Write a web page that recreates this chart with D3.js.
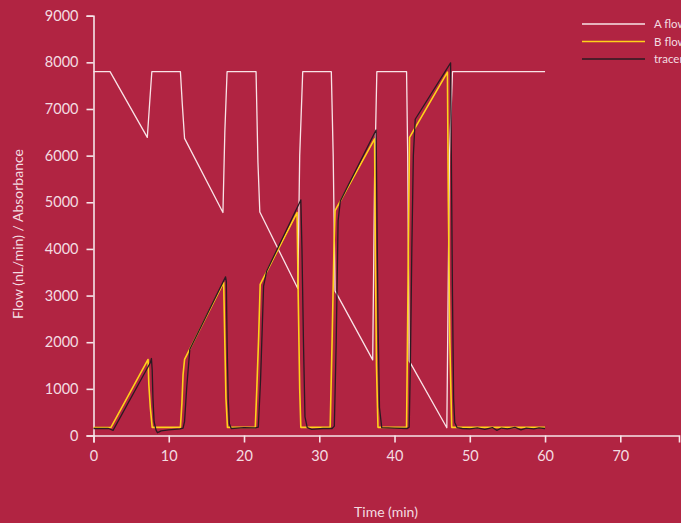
<!DOCTYPE html>
<html>
<head>
<meta charset="utf-8">
<script src="https://cdn.jsdelivr.net/npm/d3@7"></script>
<style>
html, body { margin: 0; padding: 0; background: #b12442; overflow: hidden; }
svg { display: block; }
text { font-family: Lato, "Liberation Sans", sans-serif; fill: #f4dce1; }
</style>
</head>
<body>
<svg id="chart" width="681" height="523"></svg>
<script>
// ---- data ----
const xTicks = [0, 10, 20, 30, 40, 50, 60, 70];
const yTicks = [0, 1000, 2000, 3000, 4000, 5000, 6000, 7000, 8000, 9000];
const seriesNames = ["A flow", "B flow", "tracer"];

// [time (min), value]
const aFlow = [
  [0,7800],[2.2,7800],[7.15,6390],[7.45,7100],[7.75,7800],[11.55,7800],[11.8,7100],[12.1,6370],
  [17.2,4780],[17.45,6500],[17.75,7800],[21.6,7800],[21.85,5860],[22.1,4790],
  [27.15,3150],[27.4,6000],[27.8,7800],[31.6,7800],[31.85,6000],[32.1,3100],
  [37.1,1620],[37.35,5500],[37.65,7800],[41.6,7800],[41.75,6000],[41.95,1600],
  [46.95,165],[47.3,6000],[47.7,7800],[60,7800]
];
const bFlow = [
  [0,170],[2.3,170],[7.25,1630],[7.35,1100],[7.55,600],[7.8,175],[11.55,175],[11.75,700],[11.9,1300],[12.1,1630],
  [17.3,3280],[17.45,2000],[17.6,800],[17.8,175],[21.5,175],[21.7,1000],[21.95,2130],[22.15,3240],
  [27.05,4780],[27.2,3000],[27.4,1000],[27.55,175],[31.45,175],[31.7,2000],[31.95,4000],[32.1,4820],
  [37.35,6360],[37.45,4000],[37.6,1500],[37.8,175],[41.6,175],[41.75,2500],[41.9,5000],[42.0,6390],
  [47.03,7790],[47.15,5000],[47.35,2000],[47.6,175],[60,175]
];
const tracer = [
  [0,150],[2.0,150],[2.6,110],[7.55,1560],[7.7,1650],[7.8,1400],[7.9,800],[8.05,300],[8.3,120],[8.5,60],
  [9.0,100],[10,120],[11.5,140],[11.9,160],[12.1,300],[12.4,1060],[12.8,1850],
  [17.55,3400],[17.65,3300],[17.75,2000],[17.9,800],[18.05,250],[18.3,150],[20,170],[21.5,165],[21.9,180],
  [22.2,1200],[22.6,3200],[23.0,3520],[27.55,5050],[27.7,4000],[27.9,2000],[28.1,400],[28.4,170],
  [29,130],[30.5,150],[31.7,150],[32.0,200],[32.25,2000],[32.5,4600],[32.8,5030],
  [37.55,6550],[37.65,5000],[37.8,2500],[38.0,600],[38.3,170],[40,160],[41.7,150],[41.95,180],
  [42.1,1500],[42.3,4000],[42.5,6000],[42.75,6780],[47.45,7990],[47.55,6000],[47.7,3000],[47.85,800],
  [48.0,280],[48.3,170],[49,150],[50,140],[51,165],[52,130],[53,170],[53.6,110],[54.2,160],[55,140],
  [56,175],[56.8,120],[57.5,160],[58.5,140],[59.2,165],[60,150]
];

// ---- chart ----
const svg = d3.select("#chart");
const x = d3.scaleLinear().domain([0, 77.8]).range([93.5, 679]);
const y = d3.scaleLinear().domain([0, 9000]).range([435.5, 15.7]);

const axisColor = "#f6e4e8";
const fmt = d3.format("d");

// x axis
const gx = svg.append("g").attr("transform", `translate(0,${y(0)})`)
  .call(d3.axisBottom(x).tickValues(xTicks).tickFormat(fmt).tickSize(7).tickPadding(8).tickSizeOuter(7));
gx.select(".domain").attr("stroke", axisColor).attr("stroke-width", 1.6);
gx.selectAll(".tick line").attr("stroke", axisColor).attr("stroke-width", 1.6);
gx.selectAll(".tick text").attr("font-size", 14.5).attr("font-family", "Lato, sans-serif").attr("fill", "#f4dce1");

// y axis
const gy = svg.append("g").attr("transform", `translate(${x(0)},0)`)
  .call(d3.axisLeft(y).tickValues(yTicks).tickFormat(fmt).tickSize(7).tickPadding(8).tickSizeOuter(7));
gy.select(".domain").attr("stroke", axisColor).attr("stroke-width", 1.6);
gy.selectAll(".tick line").attr("stroke", axisColor).attr("stroke-width", 1.6);
gy.selectAll(".tick text").attr("font-size", 14.5).attr("font-family", "Lato, sans-serif").attr("fill", "#f4dce1");

// axis titles
svg.append("text").attr("x", 386).attr("y", 517).attr("text-anchor", "middle")
  .attr("font-size", 14).text("Time (min)");
svg.append("text").attr("transform", "translate(23,234) rotate(-90)").attr("text-anchor", "middle")
  .attr("font-size", 14).text("Flow (nL/min) / Absorbance");

// lines
const line = d3.line().x(d => x(d[0])).y(d => y(d[1]));
const styles = [
  { data: aFlow, color: "#f9e3e7", width: 1.3 },
  { data: bFlow, color: "#ffd21a", width: 1.6 },
  { data: tracer, color: "#2b1a22", width: 1.3 }
];
styles.forEach(s => {
  svg.append("path").datum(s.data).attr("d", line)
    .attr("fill", "none").attr("stroke", s.color).attr("stroke-width", s.width)
    .attr("stroke-linejoin", "round");
});

// legend
const lg = svg.append("g");
seriesNames.forEach((name, i) => {
  const yy = 24 + i * 17.5;
  lg.append("line").attr("x1", 582).attr("x2", 645).attr("y1", yy).attr("y2", yy)
    .attr("stroke", styles[i].color).attr("stroke-width", 1.6);
  lg.append("text").attr("x", 654).attr("y", yy + 4).attr("font-size", 11.5).text(name);
});
</script>
</body>
</html>
